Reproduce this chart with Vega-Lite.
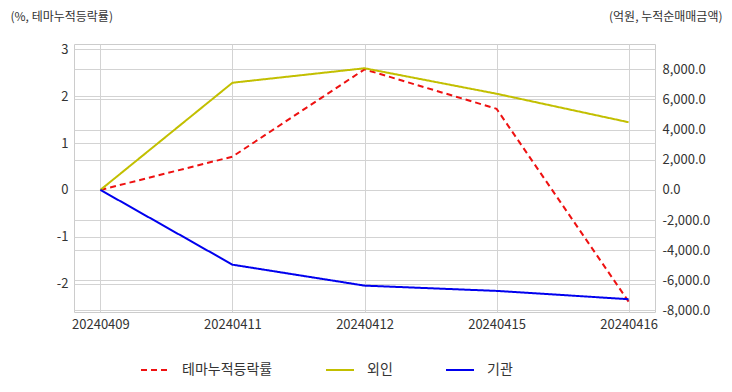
{
  "$schema": "https://vega.github.io/schema/vega-lite/v6.json",
  "autosize": {"type": "none"},
  "padding": {"left": 74, "top": 44, "right": 77, "bottom": 80},
  "width": 581,
  "height": 268,
  "background": "white",
  "config": {
    "font": "Noto Sans CJK KR",
    "view": {"stroke": "#cccccc", "strokeWidth": 1},
    "axis": {
      "labelFont": "Noto Sans CJK KR",
      "titleFont": "Noto Sans CJK KR",
      "labelColor": "#333333",
      "titleColor": "#333333",
      "labelFontSize": 13,
      "titleFontSize": 12,
      "titleFontWeight": "normal",
      "gridColor": "#d3d3d3",
      "gridWidth": 1,
      "domain": false,
      "ticks": false
    },
    "legend": {
      "labelFont": "Noto Sans CJK KR",
      "labelFontSize": 14,
      "labelColor": "#333333"
    }
  },
  "data": {
    "values": [
      {"date": "20240409", "series": "테마누적등락률", "value": 0},
      {"date": "20240411", "series": "테마누적등락률", "value": 0.71},
      {"date": "20240412", "series": "테마누적등락률", "value": 2.57},
      {"date": "20240415", "series": "테마누적등락률", "value": 1.73},
      {"date": "20240416", "series": "테마누적등락률", "value": -2.38},
      {"date": "20240409", "series": "외인", "value": 0},
      {"date": "20240411", "series": "외인", "value": 7110},
      {"date": "20240412", "series": "외인", "value": 8070},
      {"date": "20240415", "series": "외인", "value": 6380},
      {"date": "20240416", "series": "외인", "value": 4490},
      {"date": "20240409", "series": "기관", "value": 0},
      {"date": "20240411", "series": "기관", "value": -4960},
      {"date": "20240412", "series": "기관", "value": -6350},
      {"date": "20240415", "series": "기관", "value": -6700},
      {"date": "20240416", "series": "기관", "value": -7250}
    ]
  },
  "encoding": {
    "x": {
      "field": "date",
      "type": "ordinal",
      "scale": {"type": "point", "padding": 0.2},
      "axis": {"title": null, "labelAngle": 0, "labelPadding": 6, "grid": true}
    },
    "color": {
      "field": "series",
      "type": "nominal",
      "scale": {"domain": ["테마누적등락률", "외인", "기관"], "range": ["#ee1111", "#c2bf00", "#0000ee"]},
      "legend": {
        "title": null,
        "orient": "none",
        "direction": "horizontal",
        "legendX": 66,
        "legendY": 311,
        "padding": 0,
        "symbolType": "stroke",
        "symbolSize": 784,
        "symbolStrokeWidth": 2,
        "labelOffset": 12,
        "columnPadding": 49
      }
    },
    "strokeDash": {
      "field": "series",
      "type": "nominal",
      "scale": {"domain": ["테마누적등락률", "외인", "기관"], "range": [[6, 4], [1, 0], [1, 0]]},
      "legend": {
        "title": null,
        "orient": "none",
        "direction": "horizontal",
        "legendX": 66,
        "legendY": 311,
        "padding": 0,
        "symbolType": "stroke",
        "symbolSize": 784,
        "symbolStrokeWidth": 2,
        "labelOffset": 12,
        "columnPadding": 49
      }
    }
  },
  "layer": [
    {
      "transform": [{"filter": "datum.series === '테마누적등락률'"}],
      "mark": {"type": "line", "strokeWidth": 2},
      "encoding": {
        "y": {
          "field": "value",
          "type": "quantitative",
          "scale": {"domain": [-2.6, 3.11], "nice": false, "zero": false},
          "axis": {
            "orient": "left",
            "values": [-2, -1, 0, 1, 2, 3],
            "labelExpr": "'' + datum.value",
            "labelPadding": 6,
            "grid": true,
            "title": "(%, 테마누적등락률)",
            "titleAngle": 0,
            "titleAlign": "left",
            "titleBaseline": "middle",
            "titleX": -64,
            "titleY": -28
          }
        }
      }
    },
    {
      "transform": [{"filter": "datum.series !== '테마누적등락률'"}],
      "mark": {"type": "line", "strokeWidth": 2},
      "encoding": {
        "y": {
          "field": "value",
          "type": "quantitative",
          "scale": {"domain": [-8100, 9680], "nice": false, "zero": false},
          "axis": {
            "orient": "right",
            "values": [-8000, -6000, -4000, -2000, 0, 2000, 4000, 6000, 8000],
            "labelExpr": "replace(format(datum.value, ',.1f'), '\u2212', '-')",
            "labelPadding": 7,
            "grid": true,
            "title": "(억원, 누적순매매금액)",
            "titleAngle": 0,
            "titleAlign": "right",
            "titleBaseline": "middle",
            "titleX": 67,
            "titleY": -28
          }
        }
      }
    }
  ],
  "resolve": {"scale": {"y": "independent"}}
}
